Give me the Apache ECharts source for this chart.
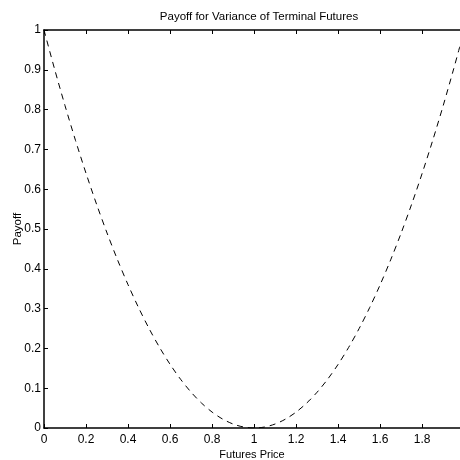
<!DOCTYPE html>
<html>
<head>
<meta charset="utf-8">
<script src="https://cdn.jsdelivr.net/npm/echarts@6/dist/echarts.min.js"></script>
<style>
  html, body { margin: 0; padding: 0; background: #fff; }
  #chart { width: 460px; height: 460px; }
</style>
</head>
<body>
<div id="chart"></div>
<script>
// futures price (x) and payoff
const futuresPrice = [0, 0.05, 0.1, 0.15, 0.2, 0.25, 0.3, 0.35, 0.4, 0.45, 0.5, 0.55, 0.6, 0.65, 0.7, 0.75, 0.8, 0.85, 0.9, 0.95,
  1, 1.05, 1.1, 1.15, 1.2, 1.25, 1.3, 1.35, 1.4, 1.45, 1.5, 1.55, 1.6, 1.65, 1.7, 1.75, 1.8, 1.85, 1.9, 1.95, 1.98]
const payoff = [1, 0.9025, 0.81, 0.7225, 0.64, 0.5625, 0.49, 0.4225, 0.36, 0.3025, 0.25, 0.2025, 0.16, 0.1225, 0.09, 0.0625, 0.04, 0.0225, 0.01, 0.0025,
  0, 0.0025, 0.01, 0.0225, 0.04, 0.0625, 0.09, 0.1225, 0.16, 0.2025, 0.25, 0.3025, 0.36, 0.4225, 0.49, 0.5625, 0.64, 0.7225, 0.81, 0.9025, 0.9604]
const xTicks = [0, 0.2, 0.4, 0.6, 0.8, 1, 1.2, 1.4, 1.6, 1.8]
const yTicks = [0, 0.1, 0.2, 0.3, 0.4, 0.5, 0.6, 0.7, 0.8, 0.9, 1]

const font = 'Liberation Sans, Arial, sans-serif'
const chart = echarts.init(document.getElementById('chart'))

const axisLine = { show: true, lineStyle: { color: '#000', width: 1.5 } }
const axisTick = { show: true, inside: true, length: 4, lineStyle: { color: '#000', width: 1 } }

chart.setOption({
  animation: false,
  title: {
    text: 'Payoff for Variance of Terminal Futures',
    left: 254,
    textAlign: 'center',
    top: 6,
    textStyle: { fontFamily: font, fontSize: 11.5, fontWeight: 'normal', color: '#000' }
  },
  grid: { left: 44, right: 0, top: 30, bottom: 32, outerBoundsMode: 'none', containLabel: false },
  xAxis: [{
    type: 'value',
    min: 0,
    max: 1.98,
    interval: 0.2,
    name: 'Futures Price',
    nameLocation: 'middle',
    nameGap: 21,
    nameMoveOverlap: false,
    nameTextStyle: { fontFamily: font, fontSize: 11, color: '#000' },
    axisLine,
    axisTick,
    splitLine: { show: false },
    axisLabel: {
      fontFamily: font, fontSize: 12, color: '#000', margin: 6,
      showMaxLabel: false,
      formatter: v => xTicks.includes(+v.toFixed(2)) ? String(+v.toFixed(2)) : ''
    }
  }, {
    type: 'value',
    position: 'top',
    min: 0,
    max: 1.98,
    interval: 0.2,
    axisLine,
    axisTick,
    axisLabel: { show: false },
    splitLine: { show: false }
  }],
  yAxis: {
    type: 'value',
    min: 0,
    max: 1,
    interval: 0.1,
    name: 'Payoff',
    nameLocation: 'middle',
    nameGap: 20,
    nameMoveOverlap: false,
    nameTextStyle: { fontFamily: font, fontSize: 11.5, color: '#000' },
    axisLine,
    axisTick,
    splitLine: { show: false },
    axisLabel: {
      fontFamily: font, fontSize: 12, color: '#000', margin: 3,
      formatter: v => String(yTicks.find(t => Math.abs(t - v) < 1e-6) ?? '')
    }
  },
  series: [{
    type: 'line',
    data: futuresPrice.map((x, i) => [x, payoff[i]]),
    smooth: 0.3,
    showSymbol: false,
    lineStyle: { color: '#000', width: 1, type: [6, 5] }
  }]
})
</script>
</body>
</html>
